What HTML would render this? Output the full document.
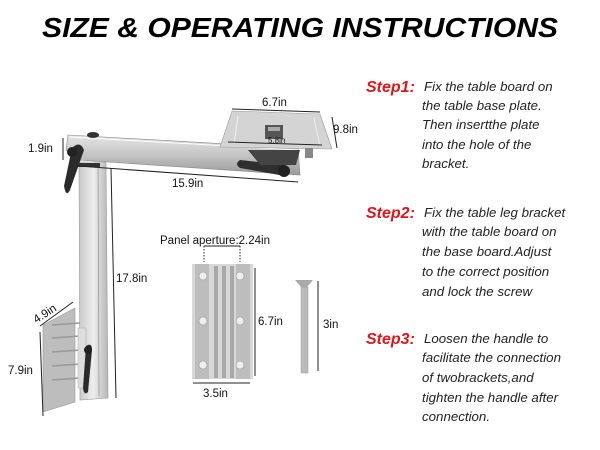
<!DOCTYPE html>
<html><head><meta charset="utf-8"><style>
html,body{margin:0;padding:0;background:#fff;}
svg{display:block;font-family:"Liberation Sans",Arial,sans-serif;}
</style></head><body>
<svg width="600" height="450" viewBox="0 0 600 450" xmlns="http://www.w3.org/2000/svg">
<defs>
<linearGradient id="al" x1="0" y1="0" x2="1" y2="0">
<stop offset="0" stop-color="#c9c9c9"/><stop offset="0.5" stop-color="#eeeeee"/><stop offset="1" stop-color="#b5b5b5"/>
</linearGradient>
<linearGradient id="alv" x1="0" y1="0" x2="0" y2="1">
<stop offset="0" stop-color="#e6e6e6"/><stop offset="0.5" stop-color="#c4c4c4"/><stop offset="1" stop-color="#9a9a9a"/>
</linearGradient>
</defs>
<text x="42" y="37" font-size="28" font-weight="bold" font-style="italic" textLength="516" lengthAdjust="spacingAndGlyphs">SIZE &amp; OPERATING INSTRUCTIONS</text>

<polygon points="79,162 106,162 108,398 80,400" fill="url(#al)" stroke="#999" stroke-width="0.6"/>
<line x1="98" y1="165" x2="99" y2="396" stroke="#888" stroke-width="0.6"/>
<polygon points="68,135 298,148 300,175 78,160 66,150" fill="url(#alv)" stroke="#888" stroke-width="0.6"/>
<line x1="70" y1="137" x2="298" y2="150" stroke="#fff" stroke-width="1"/>
<ellipse cx="93" cy="135" rx="6" ry="3" fill="#333"/>
<rect x="78" y="163" width="22" height="4" fill="#333"/>
<path d="M72,148 Q80,140 84,150 L70,190 Q66,198 64,186 Z" fill="#2b2b2b"/>
<circle cx="72" cy="152" r="5" fill="#222"/>
<path d="M240,160 L285,165 Q292,172 285,176 L240,168 Q234,164 240,160Z" fill="#2f2f2f"/>
<circle cx="284" cy="171" r="6" fill="#222"/>
<path d="M248,150 L280,150 L280,162 L258,162Z" fill="#3a3a3a"/>
<polygon points="232,111 320,114 332,149 220,147" fill="#d4d4d4" stroke="#999" stroke-width="0.6"/>
<line x1="238" y1="116" x2="234" y2="144" stroke="#eee"/>
<line x1="314" y1="118" x2="320" y2="146" stroke="#eee"/>
<rect x="265" y="125" width="18" height="14" fill="#555"/>
<rect x="268" y="127" width="12" height="4" fill="#aaa"/>
<polygon points="250,150 300,150 296,165 260,165" fill="#444"/>
<rect x="305" y="148" width="8" height="10" fill="#888"/>
<polygon points="43,325 75,308 75,402 43,412" fill="#bdbdbd" stroke="#999" stroke-width="0.6"/>
<g stroke="#999" stroke-width="1.5">
<line x1="52" y1="325" x2="80" y2="323"/><line x1="52" y1="338" x2="80" y2="336"/>
<line x1="52" y1="352" x2="80" y2="350"/><line x1="52" y1="366" x2="80" y2="364"/>
<line x1="52" y1="380" x2="80" y2="378"/>
</g>
<rect x="78" y="328" width="8" height="60" fill="#ddd" stroke="#aaa" stroke-width="0.5"/>
<path d="M86,346 Q92,342 92,350 L88,392 Q84,396 83,388Z" fill="#2b2b2b"/>
<circle cx="88" cy="350" r="4" fill="#222"/>

<g stroke="#222" stroke-width="1" fill="none">
<line x1="232" y1="109" x2="320" y2="112"/>
<line x1="332" y1="117" x2="337" y2="148"/>
<line x1="228" y1="142" x2="322" y2="145"/>
<line x1="78" y1="166" x2="298" y2="182"/>
<line x1="63" y1="138" x2="63" y2="160"/>
<line x1="111" y1="168" x2="116" y2="398"/>
<line x1="40" y1="326" x2="73" y2="302"/>
<line x1="40" y1="332" x2="43" y2="416"/>
<line x1="204" y1="246" x2="240" y2="246"/>
<line x1="204" y1="246" x2="204" y2="262" stroke-dasharray="1.5,1.5"/>
<line x1="240" y1="246" x2="240" y2="262" stroke-dasharray="1.5,1.5"/>
<line x1="255" y1="268" x2="255" y2="376"/>
<line x1="193" y1="383" x2="250" y2="383"/>
<line x1="318" y1="281" x2="318" y2="371"/>
</g>
<rect x="192" y="264" width="61" height="115" fill="#d8d8d8"/>
<rect x="195" y="264" width="14" height="115" fill="#bdbdbd"/>
<rect x="236" y="264" width="14" height="115" fill="#bdbdbd"/>
<rect x="214" y="266" width="4" height="112" fill="#a8a8a8"/>
<rect x="222" y="266" width="4" height="112" fill="#a8a8a8"/>
<rect x="230" y="266" width="4" height="112" fill="#a8a8a8"/>
<g fill="#eee" stroke="#999" stroke-width="0.6">
<circle cx="203" cy="276" r="4"/><circle cx="240" cy="276" r="4"/>
<circle cx="203" cy="321" r="4"/><circle cx="240" cy="321" r="4"/>
<circle cx="203" cy="365" r="4"/><circle cx="240" cy="365" r="4"/>
</g>
<polygon points="295,280 313,280 307,287 301,287" fill="#aaa"/>
<rect x="301" y="287" width="7" height="86" fill="#bbb" stroke="#999" stroke-width="0.5"/>

<g font-size="11.5" fill="#111">
<text x="262" y="106">6.7in</text>
<text x="333" y="133">9.8in</text>
<text x="268" y="143" font-size="8">5.8in</text>
<text x="28" y="152">1.9in</text>
<text x="172" y="187">15.9in</text>
<text x="116" y="282">17.8in</text>
<text x="35" y="321" transform="rotate(-33 40 320)">4.9in</text>
<text x="8" y="374">7.9in</text>
<text x="160" y="244">Panel aperture:2.24in</text>
<text x="258" y="325">6.7in</text>
<text x="323" y="328">3in</text>
<text x="203" y="397">3.5in</text>
</g>

<g font-style="italic" font-size="13.3" fill="#222">
<text x="366" y="92" fill="#e0141a" font-weight="bold" font-size="16">Step1:</text>
<text x="424" y="91">Fix the table board on</text>
<text x="422" y="110">the table base plate.</text>
<text x="422" y="129">Then insertthe plate</text>
<text x="422" y="149">into the hole of the</text>
<text x="422" y="168">bracket.</text>
<text x="366" y="218" fill="#e0141a" font-weight="bold" font-size="16">Step2:</text>
<text x="424" y="217">Fix the table leg bracket</text>
<text x="422" y="236">with the table board on</text>
<text x="422" y="256">the base board.Adjust</text>
<text x="422" y="276">to the correct position</text>
<text x="422" y="296">and lock the screw</text>
<text x="366" y="344" fill="#e0141a" font-weight="bold" font-size="16">Step3:</text>
<text x="424" y="343">Loosen the handle to</text>
<text x="422" y="362">facilitate the connection</text>
<text x="422" y="382">of twobrackets,and</text>
<text x="422" y="402">tighten the handle after</text>
<text x="422" y="421">connection.</text>
</g>
</svg>
</body></html>
